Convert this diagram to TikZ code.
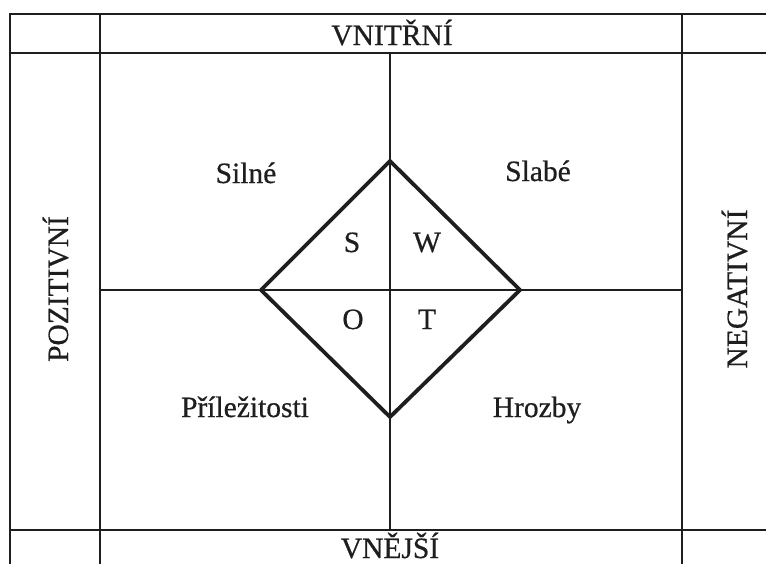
\documentclass[tikz,border=0pt]{standalone}
\usepackage{fontspec}
\setmainfont{Liberation Serif}
\newfontfamily\scanfont{Liberation Serif}[FakeBold=0.6]
\usetikzlibrary{positioning}
\definecolor{ink}{HTML}{1e1e1e}

\begin{document}
\begin{tikzpicture}[
  x=1pt, y=-1pt,
  font=\scanfont\fontsize{29.5}{34}\selectfont,
  grid/.style={line width=1.8pt, draw=ink},
  kite/.style={line width=3.8pt, draw=ink, line join=miter},
  lab/.style={anchor=base, inner sep=0pt, text=ink},
  side/.style={lab, rotate=90},
]
\useasboundingbox (0,0) rectangle (766,563);
\clip (0,0) rectangle (766,563);
% frame and rows
\draw[grid] (10,14) rectangle (790,590);
\draw[grid] (10,53) -- (790,53);
\draw[grid] (10,530) -- (790,530);
\draw[grid] (100,14) -- (100,590);
\draw[grid] (682,14) -- (682,590);
% cross
\coordinate (top) at (390,161);
\coordinate (bot) at (390,417);
\coordinate (lft) at (261,290);
\coordinate (rgt) at (520,290);
\draw[grid] (390,53) -- (390,530);
\draw[grid] (100,290) -- (682,290);
% diamond
\draw[kite] (top) -- (rgt) -- (bot) -- (lft) -- cycle;
% headers
\node[lab] (inner) at (392,45) {VNITŘNÍ};
\node[lab] (outer) at (390,558) {VNĚJŠÍ};
\node[side] (pos) at (68,289) {POZITIVNÍ};
\node[side] (neg) at (747,289) {NEGATIVNÍ};
% quadrants
\node[lab] (strong) at (246,183) {Silné};
\node[lab] (weak) at (538,181) {Slabé};
\node[lab] (opp) at (245,417) {Příležitosti};
\node[lab] (threat) at (537,417) {Hrozby};
\node[lab] (s) at (352,252) {S};
\node[lab] (w) at (427,252) {W};
\node[lab] (o) at (353,329) {O};
\node[lab] (t) at (427,329) {T};
\end{tikzpicture}
\end{document}
